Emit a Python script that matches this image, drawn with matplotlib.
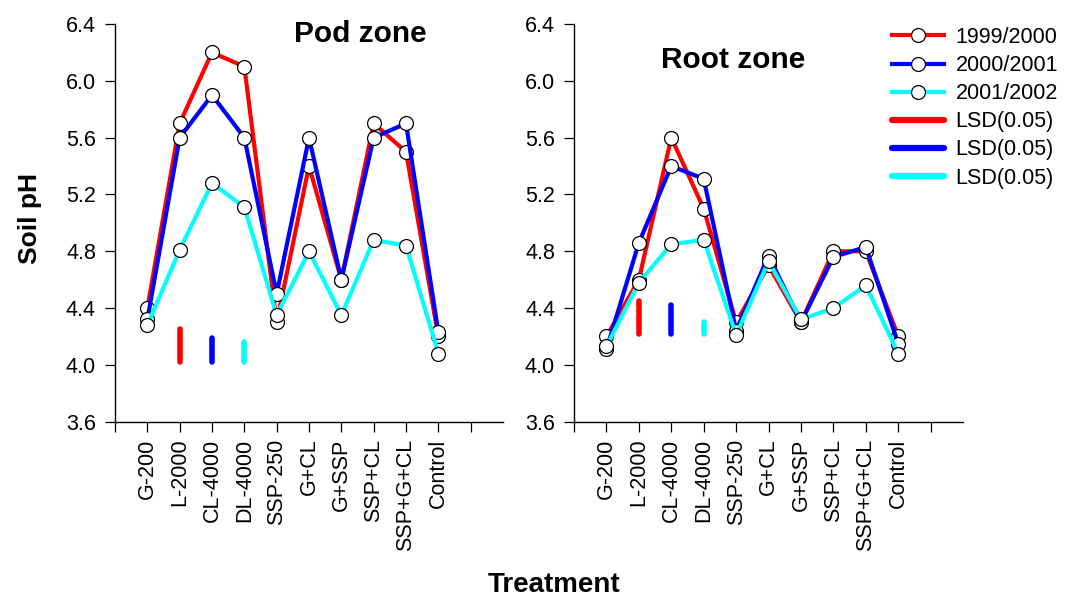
import matplotlib
matplotlib.use("Agg")
import matplotlib.pyplot as plt
from matplotlib.lines import Line2D

plt.rcParams['font.family'] = ['Liberation Sans', 'DejaVu Sans']

treatments = ["G-200", "L-2000", "CL-4000", "DL-4000", "SSP-250",
              "G+CL", "G+SSP", "SSP+CL", "SSP+G+CL", "Control"]
seasons = ["1999/2000", "2000/2001", "2001/2002"]
colors = ["#FF0000", "#0000FF", "#00FFFF"]

# Soil pH, pod zone
pod_9900 = [4.40, 5.70, 6.20, 6.10, 4.30, 5.40, 4.60, 5.70, 5.50, 4.20]
pod_0001 = [4.32, 5.60, 5.90, 5.60, 4.50, 5.60, 4.60, 5.60, 5.70, 4.23]
pod_0102 = [4.28, 4.81, 5.28, 5.11, 4.35, 4.80, 4.35, 4.88, 4.84, 4.08]

# Soil pH, root zone
root_9900 = [4.20, 4.60, 5.60, 5.10, 4.30, 4.70, 4.30, 4.80, 4.80, 4.20]
root_0001 = [4.11, 4.86, 5.40, 5.31, 4.24, 4.77, 4.30, 4.76, 4.83, 4.15]
root_0102 = [4.13, 4.58, 4.85, 4.88, 4.21, 4.73, 4.32, 4.40, 4.56, 4.08]

# LSD(0.05) bars: base level and length per season
pod_lsd_base = 4.02
pod_lsd = [0.23, 0.17, 0.14]
root_lsd_base = 4.22
root_lsd = [0.23, 0.20, 0.08]
lsd_x = [2, 3, 4]

fig = plt.figure(figsize=(10.65, 5.98), dpi=100)
ax1 = fig.add_axes([0.108, 0.2948, 0.3643, 0.665])
ax2 = fig.add_axes([0.539, 0.2948, 0.3653, 0.665])

x = list(range(1, len(treatments) + 1))


def draw_panel(ax, series, lsd_base, lsd_vals, title, tx, ty):
    for vals, c in zip(series, colors):
        ax.plot(x, vals, color=c, lw=3.0, marker='o', ms=10,
                mfc='white', mec='black', mew=0.9,
                solid_joinstyle='miter', zorder=3)
    for xi, d, c in zip(lsd_x, lsd_vals, colors):
        ax.plot([xi, xi], [lsd_base, lsd_base + d], color=c, lw=4.0,
                solid_capstyle='round', zorder=2)
    ax.set_xlim(0, 12)
    ax.set_ylim(3.6, 6.4)
    ax.set_yticks([3.6 + 0.4 * i for i in range(8)])
    ax.set_yticklabels([f"{3.6 + 0.4 * i:.1f}" for i in range(8)])
    ax.set_xticks(range(0, 12))
    ax.set_xticklabels([""] + treatments + [""], rotation=90)
    for s in ("top", "right"):
        ax.spines[s].set_visible(False)
    for s in ("left", "bottom"):
        ax.spines[s].set_linewidth(1.0)
    ax.tick_params(axis='both', direction='out', length=7.2, width=0.9)
    ax.tick_params(axis='x', pad=5, labelsize=15.5)
    ax.tick_params(axis='y', pad=6.5, labelsize=15.5)
    ax.text(tx, ty, title, fontsize=21.5, fontweight='bold',
            ha='center', va='center')


draw_panel(ax1, [pod_9900, pod_0001, pod_0102], pod_lsd_base, pod_lsd,
           "Pod zone", 7.6, 6.33)
draw_panel(ax2, [root_9900, root_0001, root_0102], root_lsd_base, root_lsd,
           "Root zone", 4.92, 6.15)

fig.text(0.028, 0.635, "Soil pH", rotation=90, fontsize=19,
         fontweight='bold', ha='center', va='center')
fig.text(0.52, 0.022, "Treatment", fontsize=20, fontweight='bold',
         ha='center', va='center')

handles = []
for s, c in zip(seasons, colors):
    handles.append(Line2D([], [], color=c, lw=3.0, marker='o', ms=10,
                          mfc='white', mec='black', mew=0.9, label=s))
for c in colors:
    handles.append(Line2D([], [], color=c, lw=4.5, solid_capstyle='round',
                          label="LSD(0.05)"))
fig.legend(handles=handles, loc='upper left',
           bbox_to_anchor=(0.823, 0.980), frameon=False, fontsize=15.5,
           handlelength=2.42, handletextpad=0.55, labelspacing=0.33,
           borderpad=0.2, numpoints=1)

fig.savefig("out.png", dpi=100)
